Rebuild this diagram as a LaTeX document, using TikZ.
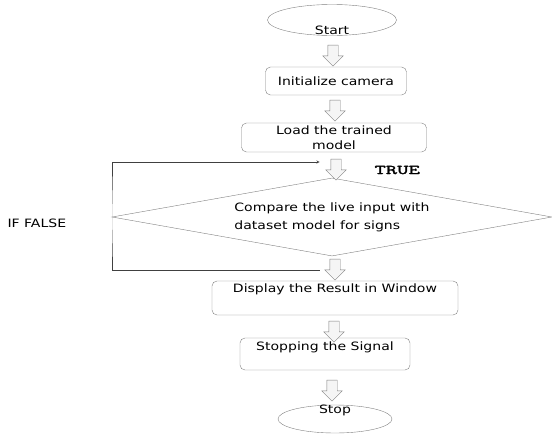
\documentclass[tikz,border=0pt]{standalone}
\usepackage{fontspec}
\setmainfont{DejaVu Sans}[FakeStretch=1.22]
\newfontfamily\truefont{lmmono10-regular.otf}[FakeBold=2,FakeStretch=1.6]
\usetikzlibrary{shapes.geometric,shapes.arrows,positioning,calc}

\begin{document}
\begin{tikzpicture}[x=1pt,y=-1pt,
		>=stealth,
		font=\fontsize{11.5}{15}\selectfont,
		procbox/.style={
			draw=gray,
			rounded corners=5pt,
			inner sep=0pt,
			align=center
		},
		termnode/.style={
			draw=gray,
			ellipse,
			inner sep=0pt
		},
		decision/.style={
			draw=gray,
			diamond,
			aspect=5.6,
			inner sep=0pt,
			minimum width=440pt,
			minimum height=78pt
		},
		blockarrow/.style={
			draw=gray,
			fill=black!4,
			single arrow,
			shape border rotate=270,
			inner sep=5pt,
			single arrow head extend=5pt,
			minimum height=21pt
		},
		fbline/.style={
			->,
			draw=black!75
		}
		]
		\useasboundingbox (0,0) rectangle (552,434);
		% steps of the flow
		\node[termnode,minimum width=129pt,minimum height=31pt,label={[yshift=-10pt]center:Start}] (start) at (332,20) {};
		\node[procbox,minimum width=141pt,minimum height=28pt] (init) at (336,81) {Initialize camera};
		\node[procbox,minimum width=185pt,minimum height=29pt] (load) at (334,137.5) {Load the trained\\model};
		\node[decision,align=left,font=\fontsize{11.5}{18}\selectfont] (decide) at (332,217) {Compare the live input with\\dataset model for signs};
		\node[procbox,minimum width=246pt,minimum height=34pt,text height=8pt,text depth=20pt] (display) at (335,298) {Display the Result in Window};
		\node[procbox,minimum width=170pt,minimum height=32pt,text height=8pt,text depth=15pt] (stopsig) at (325,354) {Stopping the Signal};
		\node[termnode,minimum width=114pt,minimum height=28pt,label={[yshift=9pt]center:Stop}] (stop) at (335,419) {};
		% block arrows between the steps
		\foreach \n/\x/\y in {arr1/333/53,arr2/335/108,arr3/336/167,arr4/335/267,arr5/334/329,arr6/332/388}
			\node[blockarrow] (\n) at (\x,\y) {};
		% branch labels
		\node[anchor=west,font=\truefont\fontsize{13.5}{14}\selectfont] (truelbl) at (371,170) {TRUE};
		\node[anchor=west] (falselbl) at (4,223) {IF FALSE};
		% loop back when false
		\draw[fbline] ([shift={(-10,3)}]arr4.180) -| (decide.west) |- ([shift={(-11,-5)}]arr3.180);
		\end{tikzpicture}
\end{document}
